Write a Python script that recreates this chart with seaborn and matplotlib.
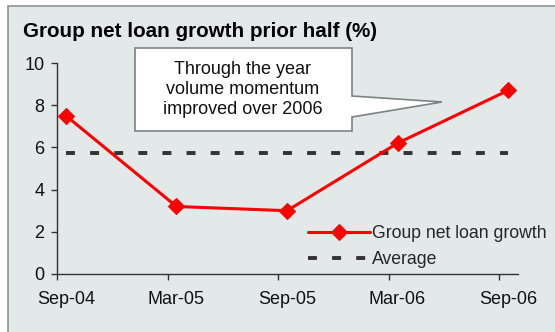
import numpy as np
import pandas as pd
import matplotlib
matplotlib.use("Agg")
import matplotlib.pyplot as plt
from matplotlib.patches import Rectangle, Polygon
import seaborn as sns

# Half-year periods and net loan growth over the prior half (%)
periods = ["Sep-04", "Mar-05", "Sep-05", "Mar-06", "Sep-06"]
growth = [7.5, 3.2, 3.0, 6.2, 8.7]
y_ticks = [0, 2, 4, 6, 8, 10]

title = "Group net loan growth prior half (%)"
callout = "Through the year\nvolume momentum\nimproved over 2006"

sns.set_theme(style="white")
plt.rcParams["font.family"] = ["Liberation Sans", "DejaVu Sans"]

W, H = 555, 332
fig = plt.figure(figsize=(W / 100, H / 100), dpi=100)
fig.patch.set_facecolor("white")

BG = "#E3E8E8"
# panel background with a grey border
fig.patches.append(Rectangle((7.5 / W, -0.2), 1.3, 1.2 - 5.5 / H,
                             transform=fig.transFigure, facecolor=BG,
                             edgecolor="#8C9494", linewidth=1.2, zorder=-2))

ax = fig.add_axes([57 / W, 1 - 274 / H, (518 - 57) / W, (274 - 63) / H])
ax.set_facecolor("none")
ax.set_zorder(2)

x = np.arange(len(periods))
df = pd.DataFrame({"x": x, "growth": growth})
df["average"] = np.mean(growth)

sns.lineplot(data=df, x="x", y="growth", ax=ax, color="#FF0000", linewidth=2.2,
             marker="D", markersize=8, markeredgecolor="#FF0000",
             label="Group net loan growth", zorder=3)
sns.lineplot(data=df, x="x", y="average", ax=ax, color="#333333", linewidth=2.8,
             label="Average", zorder=2)
avg_line = ax.lines[-1]
avg_line.set_dashes((2.3, 3.9))
avg_line.set_dash_capstyle("butt")

ax.set_xlim(-0.081, 4.09)
ax.set_ylim(0, 10)
ax.set_xlabel("")
ax.set_ylabel("")

FS = 13
ax.set_xticks(x)
ax.set_xticklabels(periods)
ax.set_xticks(x - 0.08, minor=True)
ax.tick_params(axis="x", which="major", length=0, pad=12.5, labelsize=FS,
               labelcolor="#111111")
ax.tick_params(axis="x", which="minor", bottom=True, length=4, width=1,
               color="#333333", direction="out")
ax.set_yticks(y_ticks)
ax.tick_params(axis="y", which="major", left=True, length=4, width=1,
               color="#333333", direction="out", pad=5, labelsize=FS,
               labelcolor="#111111")

for side in ["top", "right"]:
    ax.spines[side].set_visible(False)
for side in ["left", "bottom"]:
    ax.spines[side].set_color("#333333")
    ax.spines[side].set_linewidth(1.0)

leg = ax.legend(loc="center left", bbox_to_anchor=(308 / W, 1 - 246.5 / H),
                bbox_transform=fig.transFigure, frameon=False, fontsize=12.7,
                handlelength=3.5, handletextpad=0.15, labelspacing=0.5,
                borderpad=0, borderaxespad=0)
leg.get_lines()[1].set_dashes((2.3, 3.9))
leg.get_lines()[1].set_dash_capstyle("butt")

fig.text(23 / W, 1 - 37 / H, title, fontsize=14.9, fontweight="bold",
         color="#000000", va="baseline", ha="left")

# callout box with a pointer
pts = [(135, 48), (352, 48), (352, 96), (442, 102), (352, 117),
       (352, 131), (135, 131)]
fig.patches.append(Polygon([(px / W, 1 - py / H) for px, py in pts],
                           closed=True, transform=fig.transFigure,
                           facecolor="white", edgecolor="#7A8484",
                           linewidth=1.2, zorder=-1))
fig.text(243 / W, 1 - 89.5 / H, callout, fontsize=FS, ha="center",
         va="center", linespacing=1.22, color="#111111", zorder=3)

fig.savefig("out.png", dpi=100, facecolor=fig.get_facecolor())
